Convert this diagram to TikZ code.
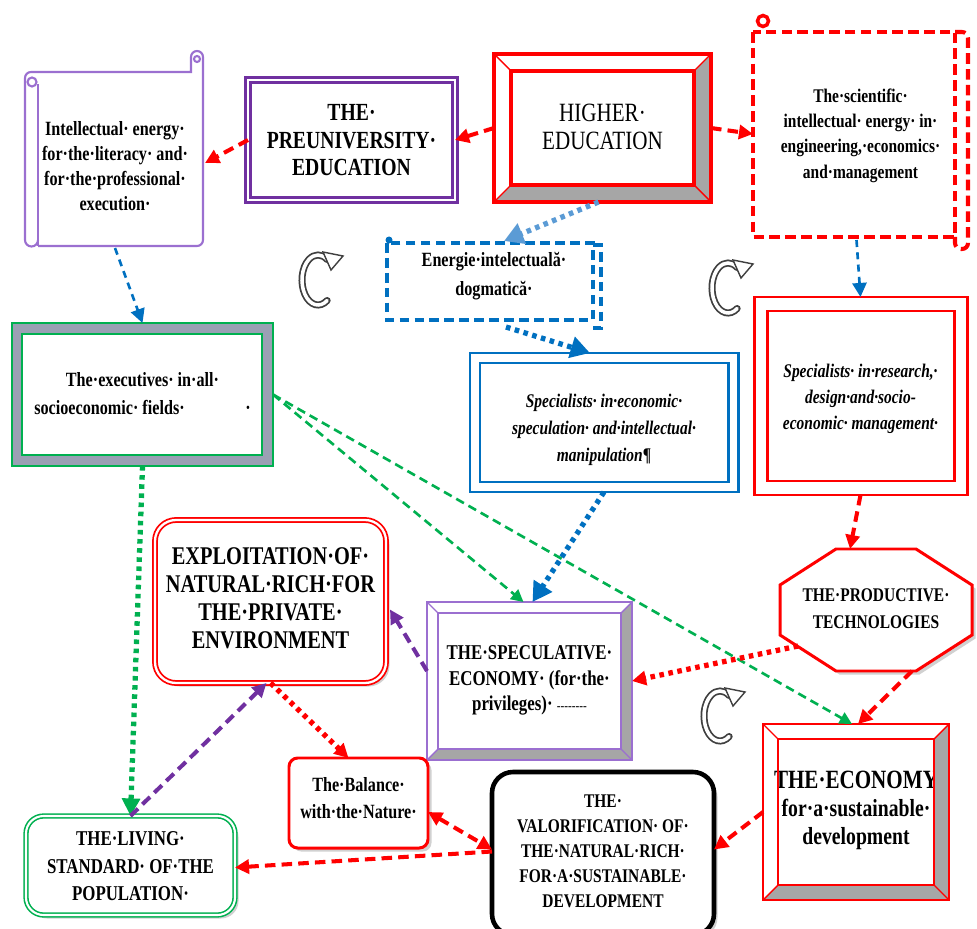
\documentclass[tikz,border=0pt]{standalone}
\usepackage{fontspec}
\setmainfont[FakeStretch=0.8]{Liberation Serif}
\usetikzlibrary{arrows.meta,calc,fit,shadows}
\definecolor{cred}{HTML}{FF0000}
\definecolor{cpurD}{HTML}{7030A0}
\definecolor{cpurL}{HTML}{9B6FD0}
\definecolor{cblue}{HTML}{0070C0}
\definecolor{cblueL}{HTML}{5B9BD5}
\definecolor{cgreen}{HTML}{00B050}
\definecolor{bevgray}{HTML}{A6A6A6}
\definecolor{bandgray}{HTML}{9AA0B4}
\newcommand\txtshift[2]{\raisebox{\dimexpr#1-2pt\relax}[0pt][0pt]{\begin{tabular}{@{}c@{}}#2\end{tabular}}}
\newcommand\bevelbox[4]{%
 \fill[bevgray] (#1.north east) -- (#1.south east) -- ++(-#2,-#2) -- ([shift={(-#2,#2)}]#1.north east) -- cycle;
 \fill[bevgray] (#1.south west) -- (#1.south east) -- ++(-#2,-#2) -- ([shift={(#2,-#2)}]#1.south west) -- cycle;
 \draw[#3, line width=#4] ([shift={(#2,#2)}]#1.north west) rectangle ([shift={(-#2,-#2)}]#1.south east);
 \draw[#3, line width=0.8pt] (#1.north west) -- ++(#2,#2) (#1.north east) -- ++(-#2,#2) (#1.south west) -- ++(#2,-#2) (#1.south east) -- ++(-#2,-#2);
 \draw[#3, line width=#4] (#1.north west) rectangle (#1.south east);
}
\tikzset{
 nbox/.style={inner sep=0pt, outer sep=0pt, align=center},
 arrowhd/.style={-{Triangle[length=8pt,width=8pt]}},
 rdash/.style={arrowhd, draw=cred, line width=2.3pt, dash pattern=on 6pt off 3.5pt},
 rdot/.style={arrowhd, draw=cred, line width=3pt, dash pattern=on 2.6pt off 2.6pt},
 bdot/.style={-{Triangle[length=11pt,width=12pt]}, draw=cblue, line width=3pt, dash pattern=on 2.6pt off 2.6pt},
 bdotl/.style={-{Triangle[length=11pt,width=12pt]}, draw=cblueL, line width=3pt, dash pattern=on 2.6pt off 2.6pt},
 bdash/.style={arrowhd, draw=cblue, line width=1.5pt, dash pattern=on 4pt off 3pt},
 gdash/.style={-{Triangle[length=7pt,width=7pt]}, draw=cgreen, line width=1.5pt, dash pattern=on 5pt off 3pt},
 gdot/.style={-{Triangle[length=10pt,width=10pt]}, draw=cgreen, line width=3pt, dash pattern=on 2.6pt off 2.6pt},
 pdash/.style={arrowhd, draw=cpurD, line width=2.3pt, dash pattern=on 6pt off 3.5pt},
 shd/.style={drop shadow={shadow xshift=2pt, shadow yshift=-2pt, opacity=0.3, fill=black!60}},
 cycl/.pic={
  \draw[line width=4pt, black!75, line cap=round] (55:16 and 25) arc[start angle=55, end angle=305, x radius=16, y radius=25];
  \draw[line width=2pt, white, line cap=round] (55:16 and 25) arc[start angle=55, end angle=305, x radius=16, y radius=25];
  \filldraw[fill=white, draw=black!75, line width=0.8pt] (5,-28) -- (25,-24) -- (13,-10) -- cycle;
 },
}
\begin{document}
\begin{tikzpicture}[x=0.02cm,y=-0.02cm]
\useasboundingbox (0,0) rectangle (977,929);

% ---------- left scroll
\node[nbox, fit={(25,72)(205,248)}, font=\fontsize{11.5}{14.2}\selectfont\bfseries] (lscroll)
 {\txtshift{-5.5pt}{Intellectual·\ energy·\\for·the·literacy·\ and·\\for·the·professional·\\execution·}};
\begin{scope}[draw=cpurL, line width=1.2pt]
\draw (25,240) -- (25,78) arc[start angle=180, end angle=270, radius=6] -- (191,72) -- (191,57)
  arc[start angle=180, end angle=360, radius=6] -- (203,240) arc[start angle=0, end angle=90, radius=6] -- (38,246);
\draw (38,84) -- (38,246);
\draw (25,240) arc[start angle=180, end angle=0, radius=6.5];
\draw (32,82) circle[radius=4.5];
\draw (197,59) circle[radius=3];
\end{scope}

% ---------- preuniversity
\node[nbox, fit={(248,80)(455,200)}, draw=cpurD, double=white, double distance=0.8pt, line width=1.7pt,
 font=\fontsize{14}{15.6}\selectfont\bfseries] (preuniv) {\txtshift{-3.2pt}{THE·\\PREUNIVERSITY·\\EDUCATION}};

% ---------- higher education
\node[nbox, fit={(494,54)(711,202)}, font=\fontsize{15}{15.9}\selectfont] (higher) {\txtshift{-2.5pt}{HIGHER·\\EDUCATION}};
\bevelbox{higher}{17}{cred}{2.3pt}

% ---------- right scroll
\node[nbox, fit={(753,32)(968,248)}, font=\fontsize{11}{14.4}\selectfont\bfseries] (rscroll)
 {\txtshift{2pt}{The·scientific·\\intellectual·\ energy·\ in·\\engineering,·economics·\\and·management}};
\begin{scope}[draw=cred, line width=2.3pt, dash pattern=on 6pt off 3pt]
\draw (753,32) rectangle (955,237);
\draw[rounded corners=3.4pt] (955,32) -- (968,32) -- (968,249) -- (955,249) -- (955,237);
\end{scope}
\draw[cred, line width=2pt] (763,21) circle[radius=5.5];

% ---------- energie
\node[nbox, fit={(385,241)(603,327)}, font=\fontsize{11.5}{16.4}\selectfont\bfseries] (energie)
 {\txtshift{4pt}{Energie·intelectuală·\\dogmatică·}};
\begin{scope}[draw=cblue, line width=2.3pt, dash pattern=on 5.5pt off 3pt]
\draw (387,243) rectangle (593,320);
\draw (593,245) -- (601,245) -- (601,328) -- (593,328);
\end{scope}
\fill[cblue] (389,240) circle[radius=3.5];

% ---------- executives
\fill[bandgray] (12,323) rectangle (273,466);
\filldraw[fill=white, draw=cgreen, line width=1pt] (22,334) rectangle (262,455);
\node[nbox, fit={(12,323)(273,466)}, draw=cgreen, line width=1.7pt, font=\fontsize{11.5}{15.9}\selectfont\bfseries] (execs)
 {\txtshift{-1.5pt}{The·executives·\ in·all·\\socioeconomic·\ fields·\hspace{3em}·}};

% ---------- specialists speculation
\node[nbox, fit={(470,353)(738,492)}, draw=cblue, line width=1.7pt, font=\fontsize{11}{15.3}\selectfont\bfseries\itshape] (specspec)
 {\txtshift{-4.5pt}{Specialists·\ in·economic·\\speculation·\ and·intellectual·\\manipulation{\upshape¶}}};
\draw[cblue, line width=1.7pt] (480,363) rectangle (728,482);

% ---------- specialists research
\node[nbox, fit={(754,297)(967,495)}, draw=cred, line width=1.7pt, font=\fontsize{11}{14.7}\selectfont\bfseries\itshape] (research)
 {\txtshift{-2pt}{Specialists·\ in·research,·\\design·and·socio-\\economic·\ management·}};
\draw[cred, line width=1.7pt] (767,311) rectangle (954,481);

% ---------- productive technologies (octagon)
\filldraw[draw=cred, fill=white, line width=1.7pt, shd] (916,549) -- (972,585) -- (972,635) -- (916,671) -- (836,671) -- (780,635) -- (780,585) -- (836,549) -- cycle;
\node[nbox, fit={(780,549)(972,671)}, font=\fontsize{11}{15.3}\selectfont\bfseries] (prod) {\txtshift{-0.5pt}{THE·PRODUCTIVE·\\TECHNOLOGIES}};

% ---------- exploitation
\node[nbox, fit={(155,520)(386,683)}, draw=cred, double=white, double distance=1.3pt, line width=1pt, rounded corners=12pt,
 fill=white, shd, font=\fontsize{14.5}{15.9}\selectfont\bfseries] (exploit)
 {\txtshift{-1.2pt}{EXPLOITATION·OF·\\NATURAL·RICH·FOR\\THE·PRIVATE·\\ENVIRONMENT}};

% ---------- speculative economy
\node[nbox, fit={(427,602)(632,760)}, font=\fontsize{12}{14.5}\selectfont\bfseries] (spec)
 {\txtshift{-0.5pt}{THE·SPECULATIVE·\\ECONOMY·\ (for·the·\\privileges)·\ {\mdseries\fontsize{8}{8}\selectfont{-}{-}{-}{-}{-}{-}{-}{-}}}};
\bevelbox{spec}{11}{cpurL}{1pt}

% ---------- economy sustainable
\node[nbox, fit={(763,724)(949,900)}, font=\fontsize{14}{15.9}\selectfont\bfseries] (economy)
 {\txtshift{-1pt}{{\fontsize{15}{15.9}\selectfont THE·ECONOMY}\\for·a·sustainable·\\development}};
\bevelbox{economy}{15}{cred}{0.8pt}

% ---------- balance
\node[nbox, fit={(289,758)(428,848)}, draw=cred, line width=1.7pt, rounded corners=5pt, fill=white, shd,
 font=\fontsize{11.5}{15.3}\selectfont\bfseries] (balance) {\txtshift{1pt}{The·Balance·\\with·the·Nature·}};

% ---------- living standard
\node[nbox, fit={(26,816)(235,915)}, draw=cgreen, double=white, double distance=1.2pt, line width=0.9pt, rounded corners=10pt,
 fill=white, shd, font=\fontsize{12}{15.6}\selectfont\bfseries] (living) {\txtshift{-2.3pt}{THE·LIVING·\\STANDARD·\ OF·THE\\POPULATION·}};

% ---------- valorification
\node[nbox, fit={(492,772)(714,935)}, draw=black, line width=2.6pt, rounded corners=12pt, fill=white, shd,
 font=\fontsize{11}{14.2}\selectfont\bfseries] (valor)
 {\txtshift{0pt}{THE·\\VALORIFICATION·\ OF·\\THE·NATURAL·RICH·\\FOR·A·SUSTAINABLE·\\DEVELOPMENT}};

% ---------- cycle symbols
\pic at (318,280) {cycl};
\pic at (728,288) {cycl};
\pic at (720,716) {cycl};

% ---------- connectors
\draw[rdash] (higher.west) -- (preuniv.east);
\draw[rdash] (preuniv.west) -- ($(lscroll.east)+(0,3)$);
\draw[rdash] (higher.east) -- ($(rscroll.west)+(0,-6)$);
\draw[bdotl] ($(higher.south)+(-4,0)$) -- ($(energie.north)+(10,0)$);
\draw[bdash] ($(rscroll.south)+(-4,-8)$) -- (research.north);
\draw[bdash] (lscroll.south) -- (execs.north);
\draw[bdot] ($(energie.south)+(12,0)$) -- ($(specspec.north)+(-14,0)$);
\draw[bdot] (specspec.south) -- ($(spec.north)+(3,0)$);
\draw[gdash] (execs.east) -- ($(spec.north)+(-6,0)$);
\draw[gdash] (execs.east) -- ($(economy.north)+(-4,0)$);
\draw[gdot] (execs.south) -- (living.north);
\draw[rdash] (research.south) -- ($(prod.north)+(-26,0)$);
\draw[rdot] ($(prod.center)+(-78,36)$) -- (spec.east);
\draw[rdash] ($(prod.center)+(36,61)$) -- ($(economy.north)+(2,0)$);
\draw[pdash] ($(spec.west)+(0,-10)$) -- ($(exploit.east)+(4,8)$);
\draw[pdash] (living.north) -- ($(exploit.south)+(-4,0)$);
\draw[rdot] (exploit.south) -- ($(balance.north)+(-10,0)$);
\draw[rdash, {Triangle[length=8pt,width=8pt]}-{Triangle[length=8pt,width=8pt]}] ($(balance.east)+(0,9)$) -- ($(valor.west)+(0,-4)$);
\draw[rdash] ($(valor.west)+(0,-2)$) -- ($(living.east)+(0,2)$);
\draw[rdash] (economy.west) -- ($(valor.east)+(0,-4)$);
\end{tikzpicture}
\end{document}
